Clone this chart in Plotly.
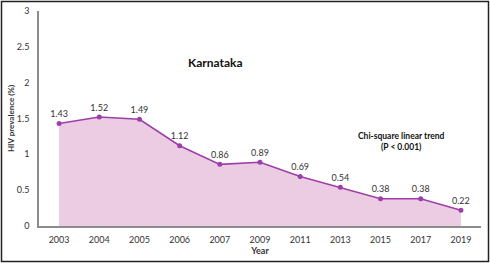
import plotly.graph_objects as go

years = ["2003", "2004", "2005", "2006", "2007", "2009", "2011", "2013", "2015", "2017", "2019"]
prevalence = [1.43, 1.52, 1.49, 1.12, 0.86, 0.89, 0.69, 0.54, 0.38, 0.38, 0.22]
y_ticks = [0, 0.5, 1, 1.5, 2, 2.5, 3]

W, H = 490, 263
L, R, T, B = 39, 9, 11, 37
pw, ph = W - L - R, H - T - B

fig = go.Figure()

fig.add_trace(go.Scatter(
    x=years, y=prevalence,
    mode='lines+markers+text',
    fill='tozeroy', fillcolor='#ecccE3',
    line=dict(color='#9e3ea8', width=1.6),
    marker=dict(color='#9e3ea8', size=5),
    text=[f"{v:.2f}" for v in prevalence],
    textposition='top center',
    textfont=dict(family='Lato', size=9, color='#333333'),
    cliponaxis=False, showlegend=False
))

fig.update_layout(
    template='none',
    width=W, height=H,
    margin=dict(l=L, r=R, t=T, b=B),
    paper_bgcolor='white', plot_bgcolor='white',
    font=dict(family='Lato', color='#333333'),
    xaxis=dict(
        type='category', range=[-0.5, len(years) - 0.5], automargin=False,
        showgrid=False, showline=True, linecolor='#8c8c8c', linewidth=1.5,
        ticks='', tickfont=dict(size=9), ticklabelstandoff=4, fixedrange=True,
        title=dict(text='<b>Year</b>', font=dict(size=9), standoff=4),
    ),
    yaxis=dict(
        range=[0, 3], tickvals=y_ticks, ticktext=[str(t) for t in y_ticks], automargin=False,
        showgrid=False, zeroline=False, showline=True, linecolor='#8c8c8c', linewidth=1.5,
        ticks='', tickfont=dict(size=9), ticklabelstandoff=6,
        title=dict(text='<b>HIV prevalence (%)</b>', font=dict(size=8), standoff=1),
    ),
)

fig.add_annotation(x=0.4, y=0.805, xref='paper', yref='paper', xanchor='center',
                   text='<b>Karnataka</b>',
                   showarrow=False, font=dict(size=12, color='#111111'))
fig.add_annotation(x=0.82, y=0.395, xref='paper', yref='paper', xanchor='center',
                   text='<b>Chi-square linear trend<br>(P < 0.001)</b>',
                   showarrow=False, font=dict(size=8.5, color='#111111'))

# outer frame around the whole picture
fig.add_shape(type='rect', xref='paper', yref='paper', layer='above',
              x0=(1.5 - L) / pw, x1=(W - 1.5 - L) / pw,
              y0=(H - B - (H - 1.5)) / ph, y1=(H - B - 1.5) / ph,
              line=dict(color='#222222', width=1.5))

fig.write_html("out.html", config={'displayModeBar': False},
               post_script="document.body.style.margin='0';")
